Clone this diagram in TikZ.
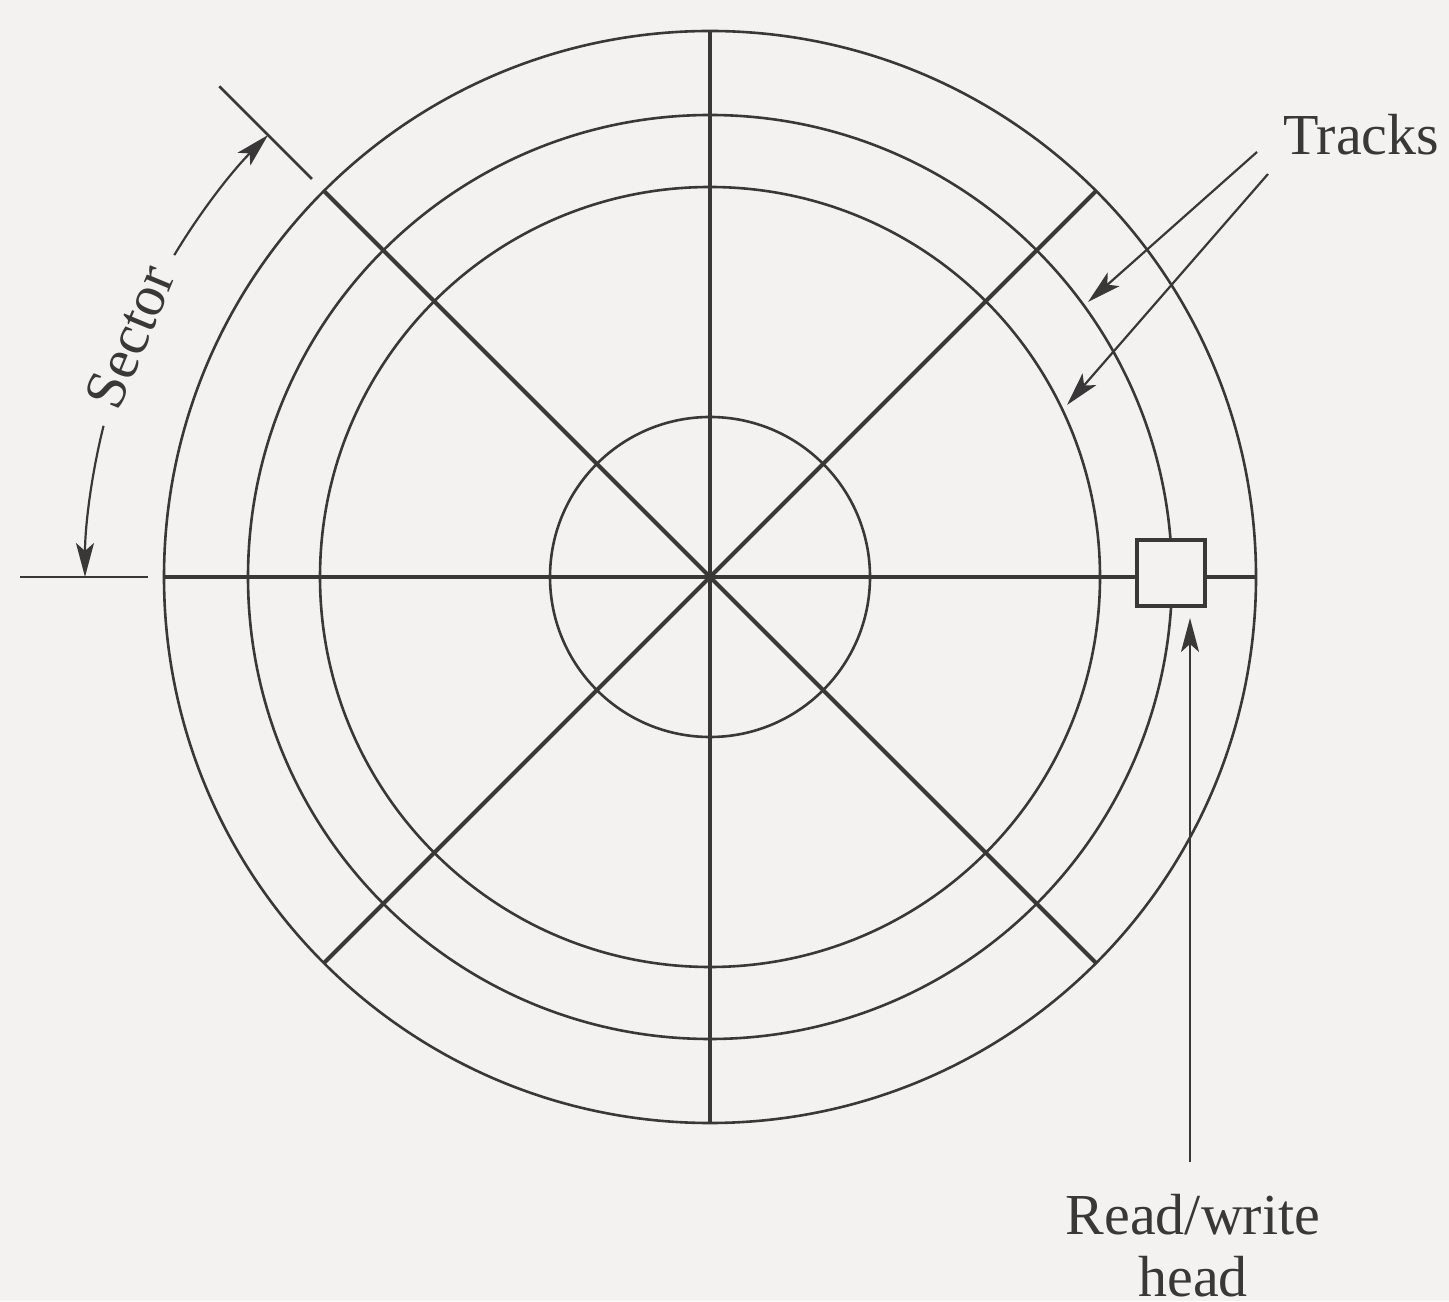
\documentclass[tikz,border=0pt]{standalone}
\usepackage{fontspec}
\setmainfont{Liberation Serif}
\usetikzlibrary{arrows.meta,calc}
\definecolor{bgc}{HTML}{F4F2F0}
\definecolor{ink}{HTML}{383838}
\begin{document}
\begin{tikzpicture}[x=0.5pt,y=0.5pt,
  thin line/.style={draw=ink,line width=1.3pt},
  spoke/.style={draw=ink,line width=2pt},
  vspoke/.style={draw=ink,line width=1.6pt},
  arr/.style={draw=ink,line width=1.1pt,-{Stealth[length=17pt,width=9pt,inset=4pt]}},
  lbl/.style={text=ink,font=\fontsize{29}{31}\selectfont,inner sep=0pt},
  headbox/.style={draw=ink,line width=2pt,fill=bgc,minimum width=34pt,minimum height=33pt,inner sep=0pt}]
\fill[bgc] (0,0) rectangle (1449,1301);
\useasboundingbox (0,0) rectangle (1449,1301);
\coordinate (c) at (710,724);
% circles
\draw[thin line] (c) circle[radius=546];
\draw[thin line] (c) circle[radius=462];
\draw[thin line] (c) circle[radius=390];
\draw[thin line] (c) circle[radius=160];
% spokes
\draw[spoke] ($(c)+(45:546)$) -- ($(c)+(225:546)$);
\draw[spoke] ($(c)+(135:546)$) -- ($(c)+(315:546)$);
\draw[vspoke] ($(c)+(90:546)$) -- ($(c)+(270:546)$);
\draw[spoke] ($(c)+(180:546)$) -- ($(c)+(0:546)$);
% head
\node[headbox] (head) at (1171,728) {};
% sector dimension
\draw[thin line] ($(c)+(135:563)$) -- ($(c)+(135:694)$);
\draw[thin line] ($(c)+(180:562)$) -- ($(c)+(180:690)$);
\node[lbl,rotate=67.5] (sector) at ($(c)+(157.5:628)$) {Sector};
\draw[arr] ($(c)+(149:625)$) arc[start angle=149,end angle=135,radius=625];
\draw[arr] ($(c)+(166:625)$) arc[start angle=166,end angle=180,radius=625];
% tracks
\node[lbl,anchor=base west] (tracks) at (1283,1146) {Tracks};
\coordinate (t1s) at (1257,1149);
\coordinate (t1e) at (1088,999);
\coordinate (t2s) at (1268,1127);
\coordinate (t2e) at (1067,896);
\draw[arr] (t1s) -- (t1e);
\draw[arr] (t2s) -- (t2e);
% read/write head label
\node[lbl,anchor=north,align=center] (rw) at (1193,107) {Read/write\\head};
\coordinate (rwt) at (1190,139);
\draw[arr,shorten >=5pt] (rwt) -- (rwt |- head.south);
\end{tikzpicture}
\end{document}
